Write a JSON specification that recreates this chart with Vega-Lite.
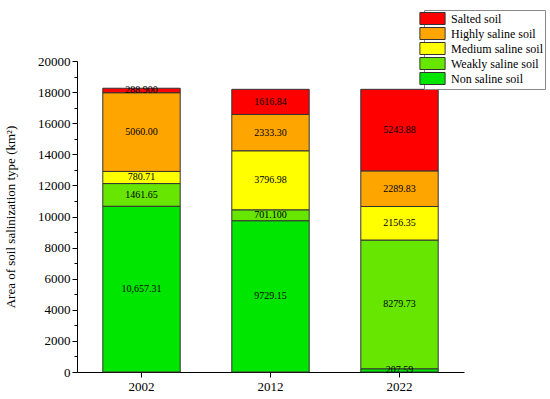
{
  "$schema": "https://vega.github.io/schema/vega-lite/v6.json",
  "autosize": "none",
  "width": 387,
  "height": 311,
  "padding": {"left": 77, "top": 61, "right": 86, "bottom": 27},
  "background": "white",
  "config": {
    "font": "Liberation Serif",
    "view": {"stroke": null}
  },
  "data": {
    "values": [
      {"year": "2002", "type": "Non saline soil", "idx": 1, "area": 10657.31, "label": "10,657.31"},
      {"year": "2002", "type": "Weakly saline soil", "idx": 2, "area": 1461.65, "label": "1461.65"},
      {"year": "2002", "type": "Medium saline soil", "idx": 3, "area": 780.71, "label": "780.71"},
      {"year": "2002", "type": "Highly saline soil", "idx": 4, "area": 5060.00, "label": "5060.00"},
      {"year": "2002", "type": "Salted soil", "idx": 5, "area": 288.9, "label": "288.900"},
      {"year": "2012", "type": "Non saline soil", "idx": 1, "area": 9729.15, "label": "9729.15"},
      {"year": "2012", "type": "Weakly saline soil", "idx": 2, "area": 701.1, "label": "701.100"},
      {"year": "2012", "type": "Medium saline soil", "idx": 3, "area": 3796.98, "label": "3796.98"},
      {"year": "2012", "type": "Highly saline soil", "idx": 4, "area": 2333.30, "label": "2333.30"},
      {"year": "2012", "type": "Salted soil", "idx": 5, "area": 1616.84, "label": "1616.84"},
      {"year": "2022", "type": "Non saline soil", "idx": 1, "area": 207.59, "label": "207.59"},
      {"year": "2022", "type": "Weakly saline soil", "idx": 2, "area": 8279.73, "label": "8279.73"},
      {"year": "2022", "type": "Medium saline soil", "idx": 3, "area": 2156.35, "label": "2156.35"},
      {"year": "2022", "type": "Highly saline soil", "idx": 4, "area": 2289.83, "label": "2289.83"},
      {"year": "2022", "type": "Salted soil", "idx": 5, "area": 5243.88, "label": "5243.88"}
    ]
  },
  "transform": [
    {"stack": "area", "groupby": ["year"], "sort": [{"field": "idx", "order": "ascending"}], "as": ["y0", "y1"]},
    {"calculate": "(datum.y0 + datum.y1) / 2", "as": "ymid"}
  ],
  "encoding": {
    "x": {
      "field": "year", "type": "nominal",
      "scale": {"paddingInner": 0.4, "paddingOuter": 0.2},
      "axis": {
        "title": null, "labelAngle": 0, "labelFontSize": 13, "labelColor": "black",
        "domainColor": "black", "tickColor": "black", "tickSize": 5, "labelPadding": 3
      }
    }
  },
  "resolve": {"axis": {"y": "independent"}},
  "layer": [
    {
      "mark": {"type": "bar", "stroke": "#333", "strokeWidth": 1},
      "encoding": {
        "y": {
          "field": "y1", "type": "quantitative",
          "scale": {"domain": [0, 20000], "nice": false},
          "axis": {
            "title": "Area of soil salinization type (km²)",
            "titleFontSize": 13, "titleFontWeight": "normal", "titleColor": "black", "titlePadding": 20,
            "values": [0,1000,2000,3000,4000,5000,6000,7000,8000,9000,10000,11000,12000,13000,14000,15000,16000,17000,18000,19000,20000],
            "labelExpr": "datum.value % 2000 === 0 ? datum.value + '' : ''",
            "labelOverlap": false,
            "labelFontSize": 13, "labelColor": "black", "labelPadding": 2,
            "grid": false, "domainColor": "black", "tickColor": "black",
            "tickSize": {"condition": {"test": "datum.value % 2000 === 0", "value": 5}, "value": 3}
          }
        },
        "y2": {"field": "y0"},
        "color": {
          "field": "type", "type": "nominal",
          "scale": {
            "domain": ["Salted soil", "Highly saline soil", "Medium saline soil", "Weakly saline soil", "Non saline soil"],
            "range": ["#FF0000", "#FFA500", "#FFFF00", "#66E600", "#00E600"]
          },
          "legend": {
            "title": null, "orient": "none", "legendX": 347, "legendY": -51,
            "symbolType": "M-2.1,-1H2.1V1H-2.1Z", "symbolSize": 144,
            "symbolStrokeColor": "#333", "symbolStrokeWidth": 1, "symbolOpacity": 1,
            "labelFont": "Liberation Serif", "labelFontSize": 12, "labelColor": "black",
            "rowPadding": -2.6, "padding": 2, "strokeColor": "#888", "fillColor": "white",
            "labelOffset": 12
          }
        }
      }
    },
    {
      "mark": {"type": "text", "fontSize": 10, "font": "Liberation Serif", "color": "black", "baseline": "middle"},
      "encoding": {
        "y": {"field": "ymid", "type": "quantitative", "axis": null},
        "text": {"field": "label"}
      }
    }
  ]
}
